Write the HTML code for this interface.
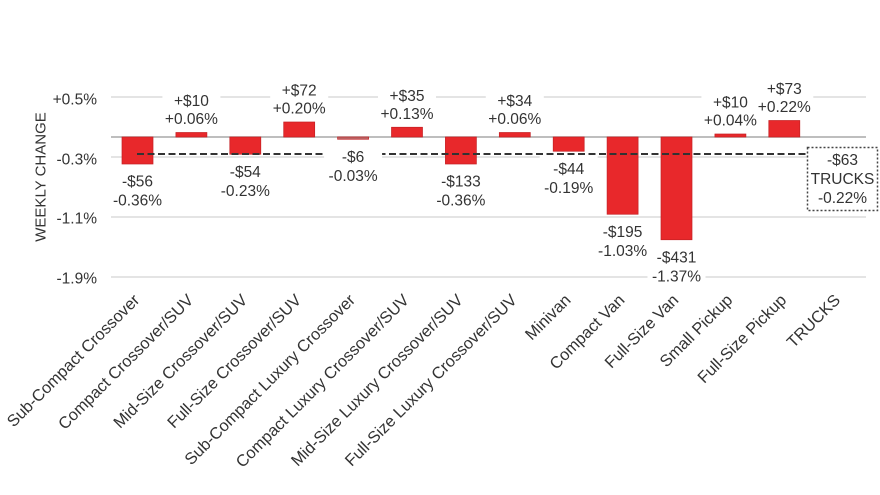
<!DOCTYPE html>
<html>
<head>
<meta charset="utf-8">
<style>
html,body{margin:0;padding:0;background:#fff;}
svg{display:block;}
text{font-family:"Liberation Sans",Arial,sans-serif;fill:#333;}
</style>
</head>
<body>
<svg width="880" height="495" viewBox="0 0 880 495" xmlns="http://www.w3.org/2000/svg">
<rect width="880" height="495" fill="#fff"/>
<!-- gridlines -->
<g stroke="#dcdcdc" stroke-width="1.5">
<line x1="111" y1="97" x2="866" y2="97"/>
<line x1="111" y1="157" x2="866" y2="157"/>
<line x1="111" y1="217" x2="866" y2="217"/>
<line x1="111" y1="277" x2="866" y2="277"/>
</g>
<line x1="111" y1="137" x2="866" y2="137" stroke="#a8a8a8" stroke-width="1.5"/>
<!-- bars -->
<g fill="#e8282b" stroke="#c42024" stroke-width="0.7">
<rect x="122" y="137" width="31" height="27"/>
<rect x="175.9" y="132.5" width="31" height="4.5"/>
<rect x="229.8" y="137" width="31" height="17.25"/>
<rect x="283.7" y="122" width="31" height="15"/>
<rect x="337.6" y="137" width="31" height="2.25" fill="#b86a6a"/>
<rect x="391.5" y="127.25" width="31" height="9.75"/>
<rect x="445.4" y="137" width="31" height="27"/>
<rect x="499.3" y="132.5" width="31" height="4.5"/>
<rect x="553.2" y="137" width="31" height="14.25"/>
<rect x="607.1" y="137" width="31" height="77.25"/>
<rect x="661" y="137" width="31" height="102.75"/>
<rect x="714.9" y="134" width="31" height="3"/>
<rect x="768.8" y="120.5" width="31" height="16.5"/>
</g>
<!-- average dashed line -->
<line x1="137" y1="154" x2="808" y2="154" stroke="#333" stroke-width="2" stroke-dasharray="7,3.5"/>
<!-- label backgrounds -->
<g fill="#fff">
<rect x="162.4" y="94.5" width="58" height="35"/>
<rect x="270.2" y="84" width="58" height="35"/>
<rect x="378" y="89.25" width="58" height="35"/>
<rect x="485.8" y="94.5" width="58" height="35"/>
<rect x="701.4" y="96" width="58" height="35"/>
<rect x="755.3" y="82.5" width="58" height="35"/>
<rect x="108.5" y="168" width="58" height="43"/>
<rect x="216.3" y="158.25" width="58" height="43"/>
<rect x="324.1" y="143.25" width="58" height="43"/>
<rect x="431.9" y="168" width="58" height="43"/>
<rect x="539.7" y="155.25" width="58" height="43"/>
<rect x="593.6" y="218.25" width="58" height="43"/>
<rect x="647.5" y="243.75" width="58" height="43"/>
</g>
<!-- value labels -->
<g font-size="15.5" text-anchor="middle">
<text x="191.4" y="106">+$10</text><text x="191.4" y="124">+0.06%</text>
<text x="299.2" y="95.5">+$72</text><text x="299.2" y="113.5">+0.20%</text>
<text x="407" y="100.75">+$35</text><text x="407" y="118.75">+0.13%</text>
<text x="514.8" y="106">+$34</text><text x="514.8" y="124">+0.06%</text>
<text x="730.4" y="107.5">+$10</text><text x="730.4" y="125.5">+0.04%</text>
<text x="784.3" y="94">+$73</text><text x="784.3" y="112">+0.22%</text>
<text x="137.5" y="186.5">-$56</text><text x="137.5" y="205.5">-0.36%</text>
<text x="245.3" y="176.75">-$54</text><text x="245.3" y="195.75">-0.23%</text>
<text x="353.1" y="161.75">-$6</text><text x="353.1" y="180.75">-0.03%</text>
<text x="460.9" y="186.5">-$133</text><text x="460.9" y="205.5">-0.36%</text>
<text x="568.7" y="173.75">-$44</text><text x="568.7" y="192.75">-0.19%</text>
<text x="622.6" y="236.75">-$195</text><text x="622.6" y="255.75">-1.03%</text>
<text x="676.5" y="262.25">-$431</text><text x="676.5" y="281.25">-1.37%</text>
</g>
<!-- TRUCKS box -->
<rect x="807.5" y="147.5" width="70" height="63" fill="#fff" stroke="#444" stroke-width="1.5" stroke-dasharray="2,2"/>
<g font-size="15.5" text-anchor="middle">
<text x="842.5" y="165">-$63</text>
<text x="842.5" y="184">TRUCKS</text>
<text x="842.5" y="203">-0.22%</text>
</g>
<!-- y tick labels -->
<g font-size="15.5" text-anchor="end">
<text x="97" y="104.5">+0.5%</text>
<text x="97" y="164.5">-0.3%</text>
<text x="97" y="223.5">-1.1%</text>
<text x="97" y="283.5">-1.9%</text>
</g>
<text transform="translate(45.5,177) rotate(-90)" font-size="15" text-anchor="middle">WEEKLY CHANGE</text>
<!-- category labels -->
<g font-size="16.4" text-anchor="end" style="fill:#3a3a3a">
<text transform="translate(140.5,301) rotate(-45)">Sub-Compact Crossover</text>
<text transform="translate(194.4,301) rotate(-45)">Compact Crossover/SUV</text>
<text transform="translate(248.3,301) rotate(-45)">Mid-Size Crossover/SUV</text>
<text transform="translate(302.2,301) rotate(-45)">Full-Size Crossover/SUV</text>
<text transform="translate(356.1,301) rotate(-45)">Sub-Compact Luxury Crossover</text>
<text transform="translate(410,301) rotate(-45)">Compact Luxury Crossover/SUV</text>
<text transform="translate(463.9,301) rotate(-45)">Mid-Size Luxury Crossover/SUV</text>
<text transform="translate(517.8,301) rotate(-45)">Full-Size Luxury Crossover/SUV</text>
<text transform="translate(571.7,301) rotate(-45)">Minivan</text>
<text transform="translate(625.6,301) rotate(-45)">Compact Van</text>
<text transform="translate(679.5,301) rotate(-45)">Full-Size Van</text>
<text transform="translate(733.4,301) rotate(-45)">Small Pickup</text>
<text transform="translate(787.3,301) rotate(-45)">Full-Size Pickup</text>
<text transform="translate(841.2,301) rotate(-45)">TRUCKS</text>
</g>
</svg>
</body>
</html>
